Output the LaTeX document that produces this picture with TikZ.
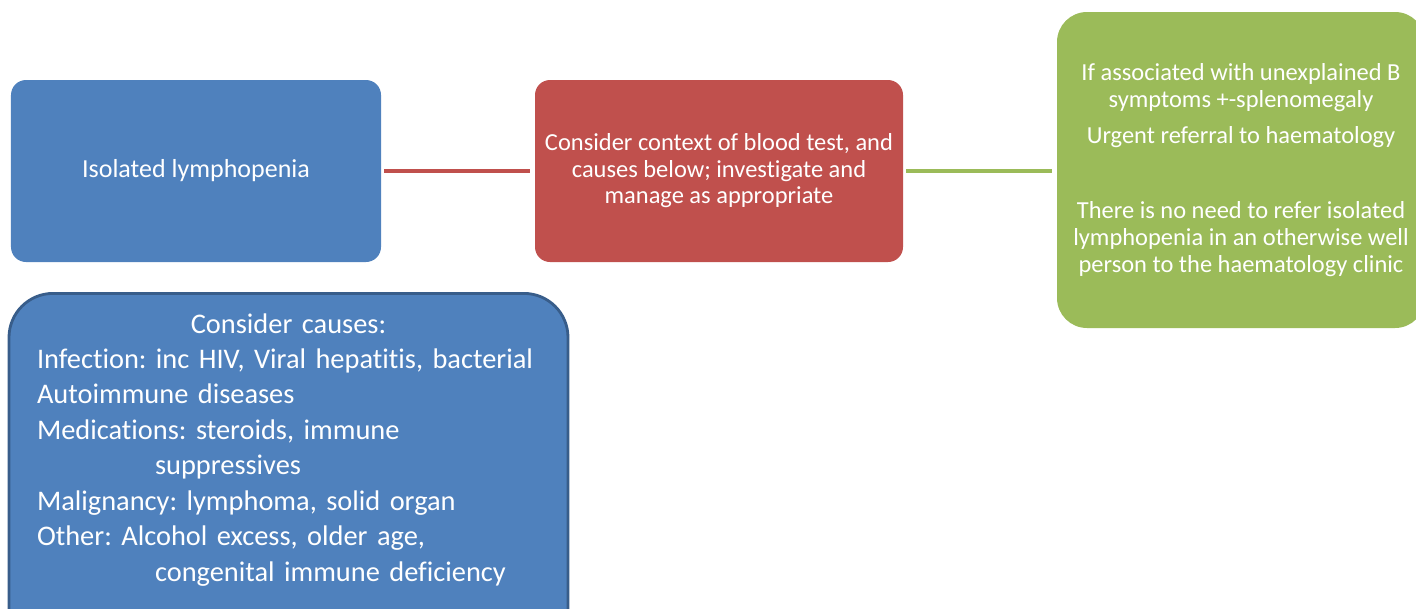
\documentclass[tikz,border=0pt]{standalone}
\usepackage{fontspec}
\setmainfont[Ligatures=NoCommon]{Carlito}
\usetikzlibrary{positioning}
\definecolor{boxblue}{HTML}{4F81BD}
\definecolor{boxred}{HTML}{C0504D}
\definecolor{boxgreen}{HTML}{9BBB59}
\definecolor{edgeblue}{HTML}{385D8A}
\frenchspacing
\begin{document}
\begin{tikzpicture}[
	box/.style={rounded corners=0.375cm, text=white, align=center, inner sep=0pt},
	link/.style={line width=2.2pt, shorten <=0.08cm, shorten >=0.12cm}]
		\useasboundingbox (0,0) rectangle (35.4,-15.2);
		\node[box, fill=boxblue, minimum width=9.25cm, minimum height=4.55cm,
			font=\fontsize{18.5}{19}\selectfont]	(A)	at (4.9,-4.275)
			{Isolated lymphopenia};
		\node[box, fill=boxred, minimum width=9.2cm, minimum height=4.55cm,
			font=\fontsize{17.4}{18.9}\selectfont]	(B)	at (17.975,-4.275)
			{Consider context of blood test, and\\
			 causes below; investigate and\\
			 manage as appropriate};
		\node[box, fill=boxgreen, rounded corners=0.75cm, minimum width=9.2cm, minimum height=7.9cm,
			font=\fontsize{17.4}{19.2}\selectfont]	(C)	at (31.025,-4.25)
			{If associated with unexplained B\\
			 symptoms +-splenomegaly\\[6.6pt]
			 Urgent referral to haematology\\[34pt]
			 There is no need to refer isolated\\
			 lymphopenia in an otherwise well\\
			 person to the haematology clinic};
		\node[box, fill=boxblue, draw=edgeblue, line width=2pt, rounded corners=1.1cm,
			anchor=north, align=left, text width=12.575cm, inner xsep=0.7cm, inner ysep=0.5cm,
			font=\fontsize{20.2}{25.2}\selectfont]	(D)	at (7.2125,-7.3)
			{\makebox[\linewidth]{Consider causes:}\\
			 Infection: inc HIV, Viral hepatitis, bacterial\\
			 Autoimmune diseases\\
			 Medications: steroids, immune\\
			 \hspace*{2.95cm}suppressives\\
			 Malignancy: lymphoma, solid organ\\
			 Other: Alcohol excess, older age,\\
			 \hspace*{2.95cm}congenital immune deficiency\rule[-1.5cm]{0pt}{0pt}};
		\path	(A)	edge	[link, draw=boxred]	(B)
				(B)	edge	[link, draw=boxgreen]	(B.east -| C.west);
	\end{tikzpicture}
\end{document}
